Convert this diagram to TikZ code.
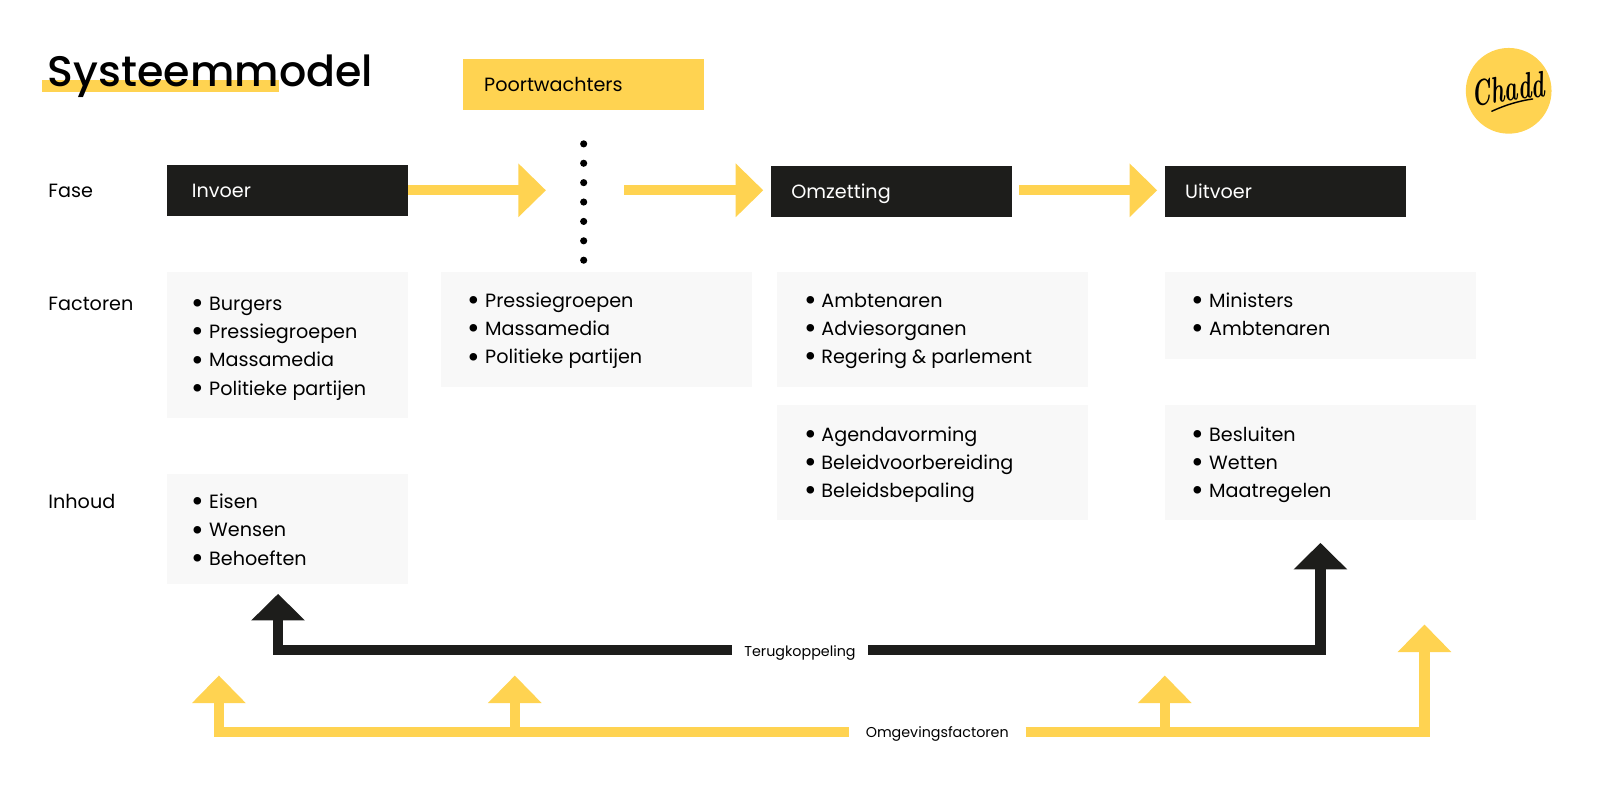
\documentclass[tikz,border=0pt]{standalone}
\usepackage{fontspec}
\setmainfont{Poppins}
\usetikzlibrary{arrows.meta,calc}
\definecolor{geel}{HTML}{FFD351}
\definecolor{zwart}{HTML}{1D1D1B}
\definecolor{grijs}{HTML}{F8F8F8}
\newfontfamily\logofont{Latin Modern Roman}
\newfontfamily\titelfont{Poppins Medium}
\newcommand{\itm}[1]{\makebox[16pt][l]{\hspace{-1pt}\smash{\raisebox{-3.2pt}{\fontsize{30}{30}\selectfont\textbullet}}}#1}
\tikzset{
 x=1pt,y=-1pt,
 every node/.style={inner sep=0pt,outer sep=0pt},
 fase/.style={fill=zwart,text=white,font=\fontsize{18.8}{20}\selectfont,minimum width=236pt,minimum height=50pt,text width=196pt,text height=13pt,text depth=0pt,align=left,anchor=north west},
 poort/.style={fill=geel,text=black,font=\fontsize{18.8}{20}\selectfont,minimum width=236pt,minimum height=50pt,text width=195pt,text height=13pt,text depth=0pt,align=left,anchor=north west},
 lbl/.style={anchor=west,font=\fontsize{18.8}{20}\selectfont,text height=13pt,text depth=0pt},
 grijsbox/.style={fill=grijs,anchor=north west},
 lijst/.style={anchor=north west,align=left,font=\fontsize{18.8}{27.7}\selectfont},
 klein/.style={font=\fontsize{14}{16}\selectfont,minimum height=12pt,text height=12pt,text depth=0pt},
 pijlgeel/.style={draw=geel,line width=10pt,-{Triangle[length=27pt,width=51pt]}},
 pijlzwart/.style={draw=zwart,line width=10pt,-{Triangle[length=26pt,width=51pt]}},
 stip/.style={circle,fill=black,minimum size=7pt},
}
\begin{document}
\begin{tikzpicture}
\useasboundingbox (0,0) rectangle (1568,778);
% title
\fill[geel] (41,78) rectangle (273,90);
\node[anchor=base west,font=\titelfont\fontsize{41.9}{46}\selectfont] (titel) at (47,84.5) {Systeemmodel};
% logo
\node[circle,fill=geel,minimum size=84pt] (logo) at (1478.5,89) {};
\node[rotate=8,font=\logofont\bfseries\itshape\fontsize{36}{38}\selectfont] (logotxt) at (1478,87) {\scalebox{.62}[1]{Chadd}};
\draw[line width=1.4pt,line cap=round] (1462,109) .. controls (1475,103) and (1488,99) .. (1502,97);
% phase boxes
\node[poort] (poort) at (454,58) {Poortwachters};
\node[fase,text width=188pt] (invoer) at (164,162) {Invoer};
\node[fase] (omz) at (755.5,163) {Omzetting};
\node[fase] (uit) at (1141.5,163) {Uitvoer};
% labels
\node[lbl] (l1) at (47.5,187) {Fase};
\node[lbl] (l2) at (47.5,298) {Factoren};
\node[lbl] (l3) at (47.5,491.5) {Inhoud};
% phase arrows
\coordinate (a1e) at (535,186.5);
\coordinate (a2s) at (612,186.5);
\coordinate (a2e) at (748,186.5);
\coordinate (a3s) at (999,186.5);
\coordinate (a3e) at (1134,186.5);
\draw[pijlgeel] (invoer.east|-a1e) -- (a1e);
\draw[pijlgeel] (a2s) -- (a2e);
\draw[pijlgeel] (a3s) -- (a3e);
% dots
\foreach \i/\y in {1/141,2/160,3/179,4/198,5/217,6/236,7/255}{\node[stip] (d\i) at (572,\y) {};}
% grey boxes
\node[grijsbox,minimum width=236pt,minimum height=143pt] (g1) at (164,267) {};
\node[grijsbox,minimum width=305pt,minimum height=112pt] (g2) at (432,267) {};
\node[grijsbox,minimum width=304.5pt,minimum height=112pt] (g3) at (761.5,267) {};
\node[grijsbox,minimum width=304pt,minimum height=85pt] (g4) at (1142,267) {};
\node[grijsbox,minimum width=304.5pt,minimum height=113pt] (g5) at (761.5,397) {};
\node[grijsbox,minimum width=304pt,minimum height=113pt] (g6) at (1142,397) {};
\node[grijsbox,minimum width=236pt,minimum height=107pt] (g7) at (164,465) {};
% lists
\node[lijst] (t1) at (189,291) {\itm{Burgers}\\\itm{Pressiegroepen}\\\itm{Massamedia}\\\itm{Politieke partijen}};
\node[lijst] (t2) at (459.5,287) {\itm{Pressiegroepen}\\\itm{Massamedia}\\\itm{Politieke partijen}};
\node[lijst] (t3) at (789,287) {\itm{Ambtenaren}\\\itm{Adviesorganen}\\\itm{Regering \& parlement}};
\node[lijst] (t4) at (1169,287) {\itm{Ministers}\\\itm{Ambtenaren}};
\node[lijst] (t5) at (789,418) {\itm{Agendavorming}\\\itm{Beleidvoorbereiding}\\\itm{Beleidsbepaling}};
\node[lijst] (t6) at (1169,418) {\itm{Besluiten}\\\itm{Wetten}\\\itm{Maatregelen}};
\node[lijst] (t7) at (189,484) {\itm{Eisen}\\\itm{Wensen}\\\itm{Behoeften}};
% feedback
\node[klein,minimum width=134pt] (terug) at (784,637) {Terugkoppeling};
\coordinate (tl) at (272.5,582);
\coordinate (tr) at (1294,532);
\draw[pijlzwart] (terug.west) -| (tl);
\draw[pijlzwart] (terug.east) -| (tr);
% environment
\node[klein,minimum width=173pt] (omg) at (918.5,717) {Omgevingsfactoren};
\coordinate (o1) at (214.5,662);
\coordinate (o2) at (504.5,662);
\coordinate (o3) at (1141.5,662);
\coordinate (o4) at (1396,612);
\draw[pijlgeel] (omg.west) -| (o1);
\draw[pijlgeel] (omg.east) -| (o4);
\draw[pijlgeel] (omg.west -| o2) -- (o2);
\draw[pijlgeel] (omg.east -| o3) -- (o3);
\end{tikzpicture}
\end{document}
